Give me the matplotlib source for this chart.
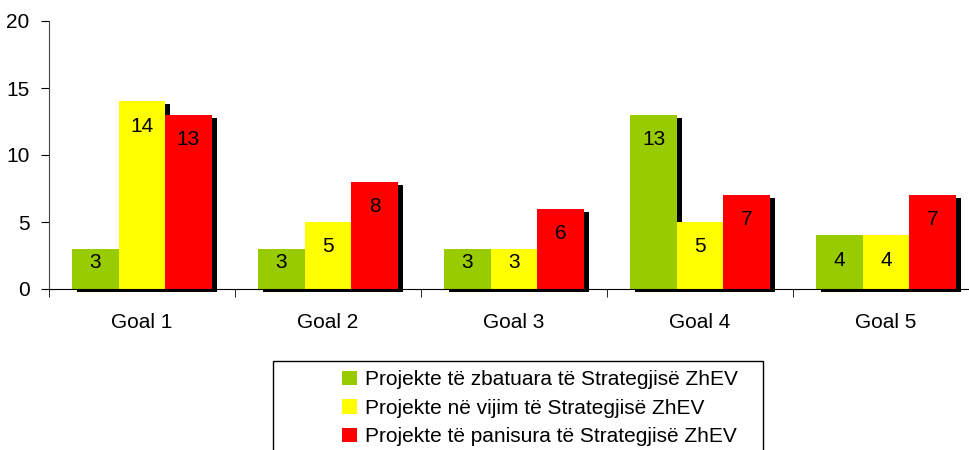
import matplotlib.pyplot as plt
from matplotlib.patches import Rectangle
import numpy as np

plt.rcParams['font.family'] = ['Liberation Sans', 'DejaVu Sans']

goals = ['Goal 1', 'Goal 2', 'Goal 3', 'Goal 4', 'Goal 5']
zbatuara = [3, 3, 3, 13, 4]
vijim = [14, 5, 3, 5, 4]
panisura = [13, 8, 6, 7, 7]
labels = ['Projekte të zbatuara të Strategjisë ZhEV',
          'Projekte në vijim të Strategjisë ZhEV',
          'Projekte të panisura të Strategjisë ZhEV']
colors = ['#99CC00', '#FFFF00', '#FF0000']

fig = plt.figure(figsize=(9.69, 4.5), dpi=100)
ax = fig.add_axes([49 / 969, 161 / 450, 930 / 969, 268 / 450])

x = np.arange(len(goals))
w = 0.25
series = [zbatuara, vijim, panisura]

# shadows first, so the bars cover them
for i, vals in enumerate(series):
    ax.bar(x + (i - 1) * w + 0.028, vals, w, bottom=-0.22, color='black',
           zorder=1, clip_on=False, linewidth=0)

for i, vals in enumerate(series):
    ax.bar(x + (i - 1) * w, vals, w, color=colors[i], label=labels[i],
           zorder=2, linewidth=0)
    for xi, v in zip(x, vals):
        ty = v - 1.85 if v > 3.5 else v - 1.0
        ax.text(xi + (i - 1) * w, ty, str(v), ha='center', va='center',
                fontsize=15, zorder=3)

ax.set_xlim(-0.5, 4.5)
ax.set_ylim(0, 20)
ax.set_yticks([0, 5, 10, 15, 20])
ax.set_xticks(x)
ax.set_xticklabels(goals)
ax.set_xticks(np.arange(-0.5, 5, 1), minor=True)
ax.tick_params(axis='x', which='major', length=0, pad=17, labelsize=15)
ax.tick_params(axis='x', which='minor', length=6, direction='out')
ax.tick_params(axis='y', length=6, direction='out', pad=8, labelsize=15)
for s in ['top', 'right']:
    ax.spines[s].set_visible(False)
ax.spines['left'].set_color('#444444')
ax.spines['bottom'].set_color('black')

# legend box, cut off at the bottom as in the original
fig.patches.append(Rectangle((273 / 969, -0.02), 490 / 969, (450 - 361) / 450 + 0.02,
                             transform=fig.transFigure, fill=False,
                             edgecolor='black', linewidth=1))
fig.legend(loc='upper left', bbox_to_anchor=(332 / 969, 1 - 360 / 450),
           frameon=False, fontsize=15, handlelength=0.7, handleheight=0.7,
           handletextpad=0.4, labelspacing=0.45, borderpad=0)

plt.savefig('out.png', dpi=100)
